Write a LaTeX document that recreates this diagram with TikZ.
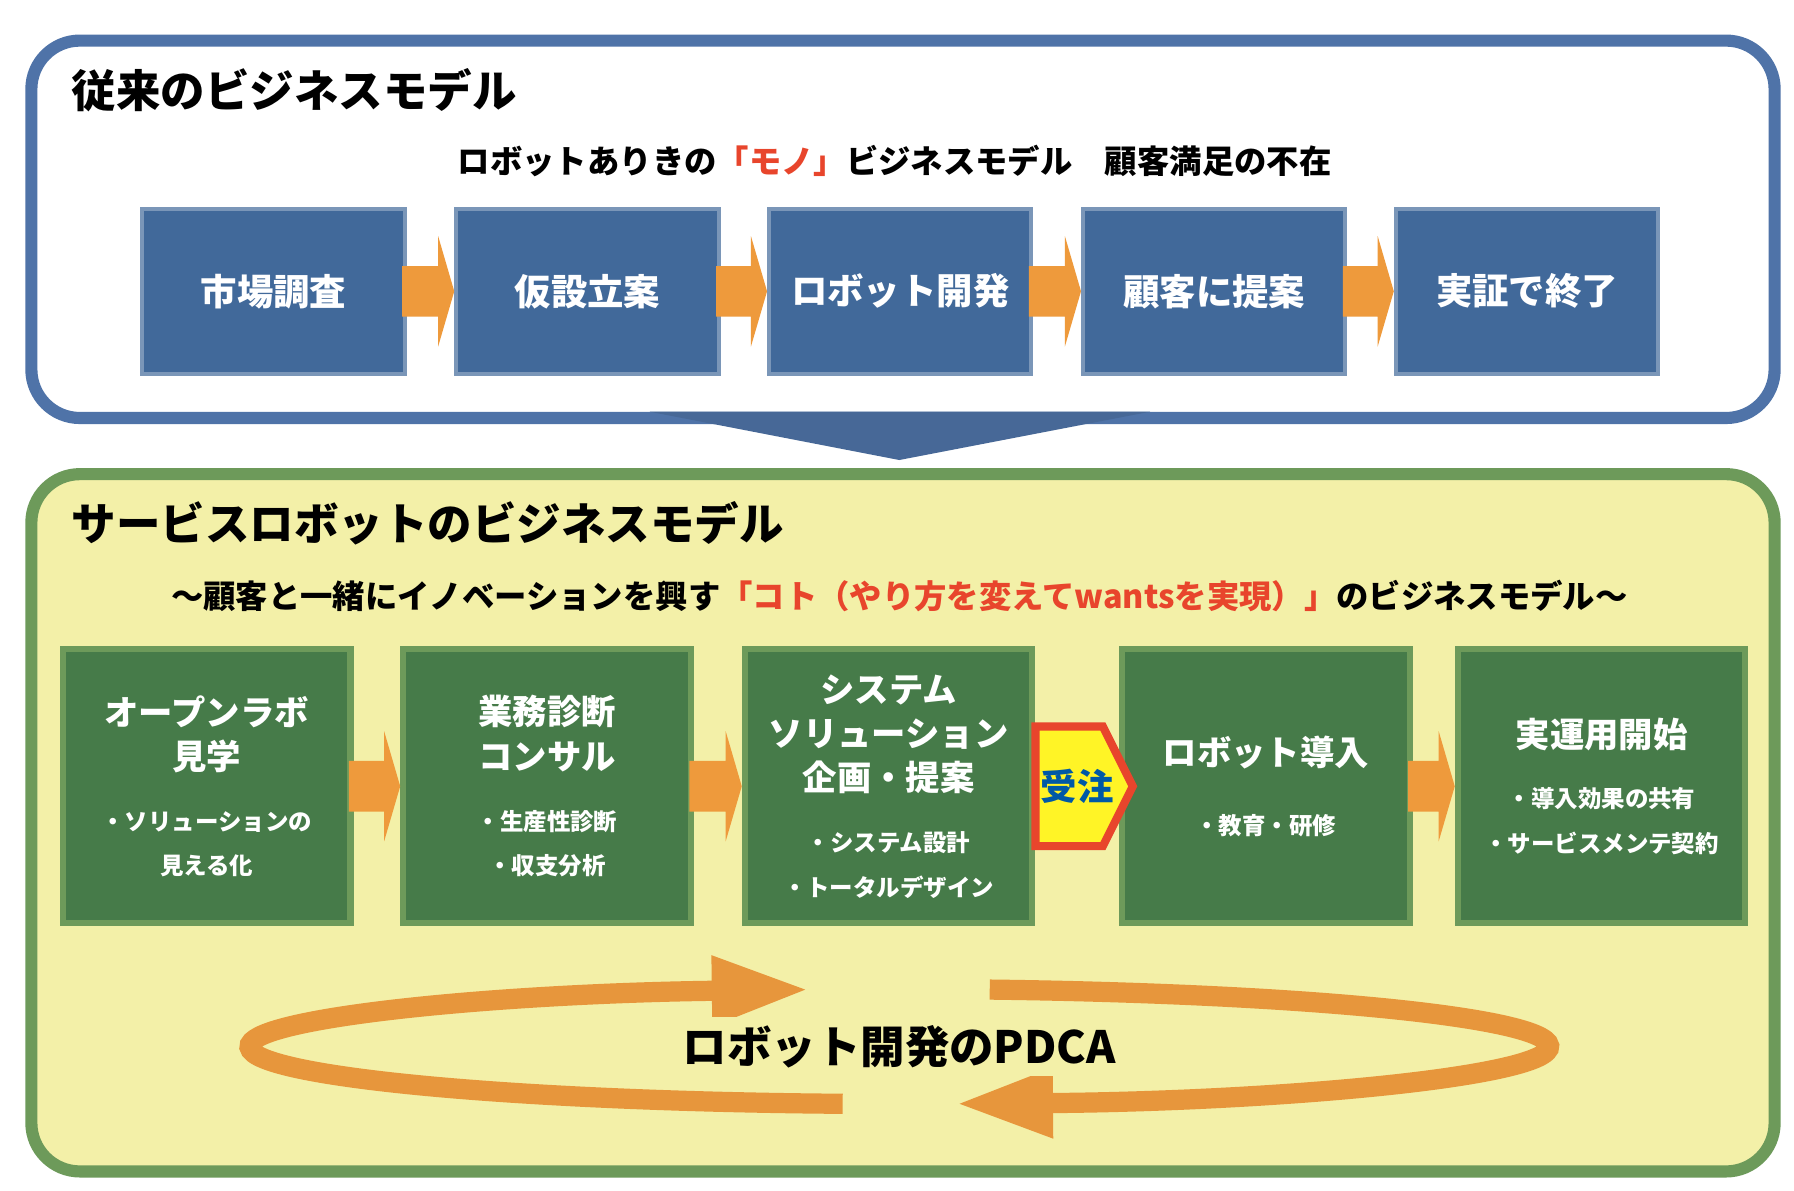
\documentclass[tikz,border=0pt]{standalone}
\usepackage{fontspec}
\setmainfont{Noto Sans CJK JP}
\usetikzlibrary{calc,positioning,arrows.meta}
\definecolor{boxblue}{HTML}{41699A}
\definecolor{lineblue}{HTML}{4F73A8}
\definecolor{flowor}{HTML}{EE9A3C}
\definecolor{paneyel}{HTML}{F3F0A8}
\definecolor{boxgreen}{HTML}{467B49}
\definecolor{linegreen}{HTML}{6D9A5A}
\definecolor{accred}{HTML}{E8452C}
\newcommand{\sm}{\fontsize{5.8}{7}\selectfont}
\newcommand{\flowarrow}[2]{%
  \fill[flowor] ($(#1.east)+(-4,-22)$) -- ($(#1.east)+(-4,22)$) -- ($(#2.west)+(-14,22)$)
    -- ($(#2.west)+(-14,48)$) -- (#2.west) -- ($(#2.west)+(-14,-48)$) -- ($(#2.west)+(-14,-22)$) -- cycle;}
\begin{document}
\begin{tikzpicture}[x=0.01cm, y=-0.01cm,
    pane/.style={draw, line width=3pt, rounded corners=12pt, anchor=north west},
    oldbox/.style={fill=boxblue, draw=boxblue!70!white, line width=1pt, minimum width=2.28cm, minimum height=1.43cm,
      text=white, font=\bfseries\fontsize{9}{10}\selectfont, align=center, anchor=north west},
    newbox/.style={fill=boxgreen, draw=linegreen, line width=1.5pt, minimum width=2.5cm, minimum height=2.38cm,
      text=white, font=\bfseries\fontsize{8.5}{11}\selectfont, align=center, anchor=north west},
    heading/.style={font=\bfseries\fontsize{11}{12}\selectfont, anchor=west},
    loop/.style={line width=5pt, flowor!85!brown, -{Triangle[length=24pt, width=16pt]}}
]
\useasboundingbox (0,0) rectangle (1560,1035);
\fill[white] (0,0) rectangle (1560,1035);

% upper part
\node[pane, draw=lineblue, fill=white, minimum width=15.15cm, minimum height=3.28cm] (oldpane) at (22,30) {};
\node[heading] (oldtitle) at (50,78) {従来のビジネスモデル};
\node[font=\bfseries\fontsize{8}{9}\selectfont] (oldsub) at (778,140)
  {ロボットありきの\textcolor{accred}{「モノ」}ビジネスモデル\quad 顧客満足の不在};
\node[oldbox] (o1) at (122,180) {市場調査};
\node[oldbox] (o2) at (395,180) {仮設立案};
\node[oldbox] (o3) at (667,180) {ロボット開発};
\node[oldbox] (o4) at (940,180) {顧客に提案};
\node[oldbox] (o5) at (1212,180) {実証で終了};
\foreach \a/\b in {o1/o2,o2/o3,o3/o4,o4/o5}{\flowarrow{\a}{\b}}

% chevron
\fill[lineblue!90!black] (565,358) -- (1000,358) -- (782,400) -- cycle;

% lower part
\node[pane, draw=linegreen, fill=paneyel, minimum width=15.15cm, minimum height=6.06cm] (newpane) at (22,407) {};
\node[heading] (newtitle) at (50,455) {サービスロボットのビジネスモデル};
\node[font=\bfseries\fontsize{8}{9}\selectfont] (newsub) at (782,518)
  {～顧客と一緒にイノベーションを興す\textcolor{accred}{「コト（やり方を変えてwantsを実現）」}のビジネスモデル～};
\node[newbox] (n1) at (52,562) {オープンラボ\\見学\\[4pt]\sm ・ソリューションの\\\sm 見える化};
\node[newbox] (n2) at (348,562) {業務診断\\コンサル\\[4pt]\sm ・生産性診断\\\sm ・収支分析};
\node[newbox] (n3) at (645,562) {システム\\ソリューション\\企画・提案\\[4pt]\sm ・システム設計\\\sm ・トータルデザイン};
\node[newbox] (n4) at (973,562) {ロボット導入\\[6pt]\sm ・教育・研修};
\node[newbox] (n5) at (1265,562) {実運用開始\\[4pt]\sm ・導入効果の共有\\\sm ・サービスメンテ契約};
\foreach \a/\b in {n1/n2,n2/n3,n4/n5}{\flowarrow{\a}{\b}}

% order arrow
\filldraw[fill=yellow!85!white, draw=accred, line width=2pt]
  ($(n3.east)+(0,-52)$) -- ($(n4.west)+(-14,-52)$) -- ($(n4.west)+(12,0)$)
  -- ($(n4.west)+(-14,52)$) -- ($(n3.east)+(0,52)$) -- cycle;
\node[text=teal!70!blue, font=\bfseries\fontsize{9}{10}\selectfont] (order) at ($(n3.east)!0.5!(n4.west)$) {受注};

% PDCA loop
\coordinate (hub) at (782,910);
\draw[loop] ($(hub)+({565*cos(95)},{50*sin(95)})$) arc[start angle=95, end angle=262, x radius=565, y radius=50];
\draw[loop] ($(hub)+({565*cos(278)},{50*sin(278)})$) arc[start angle=278, end angle=445, x radius=565, y radius=50];
\node[font=\bfseries\fontsize{11}{12}\selectfont, fill=paneyel, inner sep=2pt] (pdca) at (hub) {ロボット開発のPDCA};
\end{tikzpicture}
\end{document}
